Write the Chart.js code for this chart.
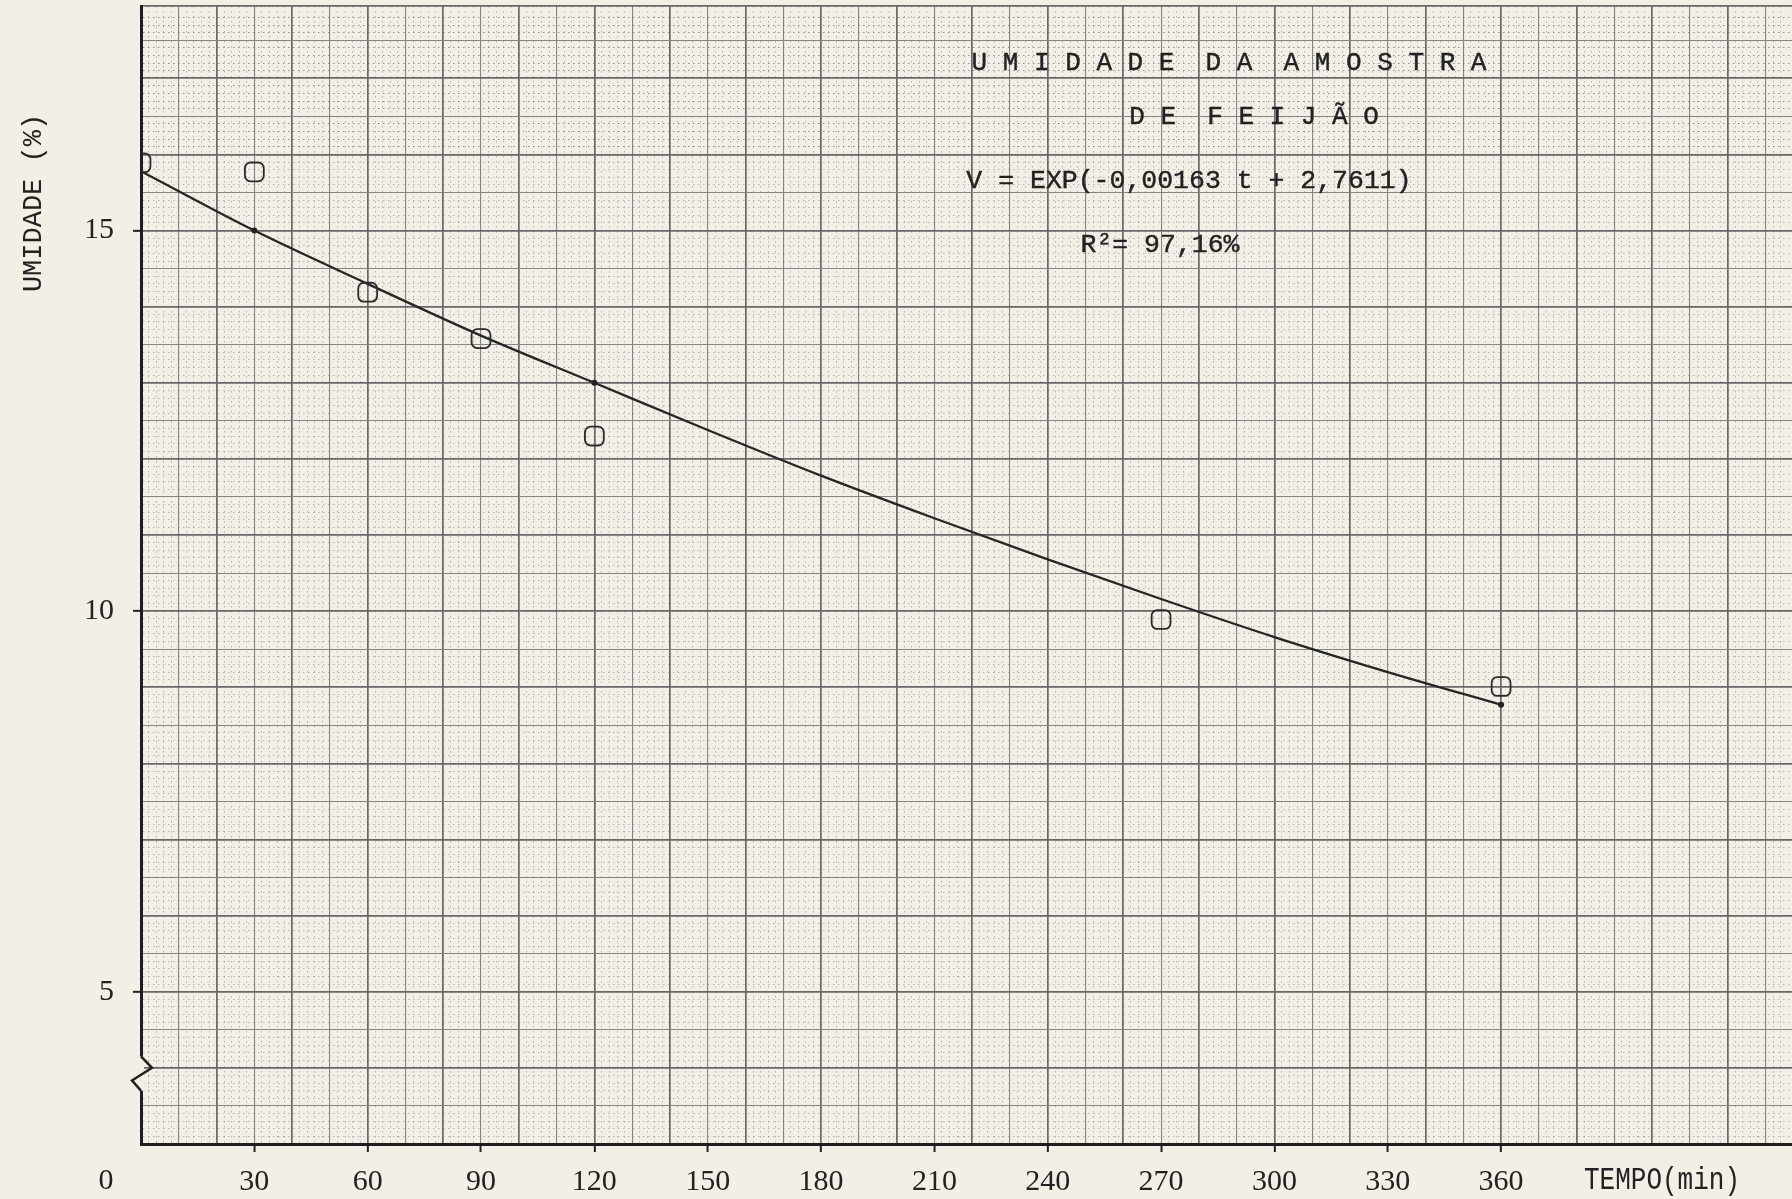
<!DOCTYPE html>
<html>
<head>
<meta charset="utf-8">
<script src="https://cdn.jsdelivr.net/npm/chart.js@4.4.1/dist/chart.umd.min.js"></script>
<style>
  body { margin: 0; background: #f3efe7; }
  #wrap { width: 1792px; height: 1199px; }
</style>
</head>
<body>
<div id="wrap"><canvas id="chart"></canvas></div>
<script>
// pontos medidos (min, %)
const tempo = [0, 30, 60, 90, 120, 270, 360];
const umidade = [15.89, 15.77, 14.19, 13.58, 12.30, 9.89, 9.01];

// curva ajustada
const ajusteTempo = [0, 30, 60, 90, 120, 150, 180, 210, 240, 270, 300, 330, 360];
const ajusteUmidade = [15.78, 15.0, 14.3, 13.62, 13.0, 12.38, 11.78, 11.22, 10.68, 10.16, 9.66, 9.2, 8.77];
const ajusteMarcas = [30, 120, 360];

const xLabels = [30, 60, 90, 120, 150, 180, 210, 240, 270, 300, 330, 360];
const yLabels = [5, 10, 15];

const paper = '#f3efe7';
const ink = '#222';
const monoFam = "'Liberation Mono', 'DejaVu Sans Mono', monospace";
const numFam = "'Liberation Serif', 'DejaVu Serif', serif";

function xKind(v) {
    const r = Math.round(v);
    if (r % 20 === 0) return 2;
    if (r % 10 === 0) return 1;
    return 0;
}
function yKind(v) {
    const t = Math.round(v * 10);
    if (t % 10 === 0) return 2;
    if (t % 5 === 0) return 1;
    return 0;
}

function typed(ctx, txt, x, y) {
    ctx.fillText(txt, x, y);
    ctx.strokeText(txt, x, y);
}

const paperPlugin = {
    id: 'paper',
    beforeDraw(chart) {
        const ctx = chart.ctx;
        ctx.save();
        ctx.fillStyle = paper;
        ctx.fillRect(0, 0, chart.width, chart.height);
        ctx.restore();
    },
    afterDraw(chart) {
        const ctx = chart.ctx;
        const xs = chart.scales.x, ys = chart.scales.y;
        const x0 = xs.getPixelForValue(0);

        // quebra do eixo
        const ya = ys.getPixelForValue(4.15), yb = ys.getPixelForValue(3.7);
        ctx.save();
        ctx.fillStyle = paper;
        ctx.fillRect(x0 - 3, ya, 6, yb - ya);
        ctx.strokeStyle = '#222';
        ctx.lineWidth = 2.5;
        ctx.beginPath();
        ctx.moveTo(x0, ya);
        ctx.lineTo(x0 + 11, ya + (yb - ya) * 0.33);
        ctx.lineTo(x0 - 9, ya + (yb - ya) * 0.7);
        ctx.lineTo(x0, yb);
        ctx.stroke();

        ctx.fillStyle = ink;
        ctx.strokeStyle = ink;
        ctx.lineWidth = 0.4;
        ctx.textAlign = 'center';
        ctx.textBaseline = 'middle';
        ctx.font = '26px ' + monoFam;
        typed(ctx, 'U M I D A D E  D A  A M O S T R A', 1229, 63);
        typed(ctx, 'D E  F E I J Ã O', 1254, 117);
        ctx.font = '26.5px ' + monoFam;
        typed(ctx, 'V = EXP(-0,00163 t + 2,7611)', 1189, 181);
        typed(ctx, 'R²= 97,16%', 1160, 245);

        ctx.font = '30px ' + numFam;
        ctx.fillText('0', 106, 1181);

        // título do eixo x, tipo de máquina (estreito e alto)
        ctx.save();
        ctx.translate(1662, 1181);
        ctx.scale(1, 1.22);
        ctx.font = '26px ' + monoFam;
        ctx.fillText('TEMPO(min)', 0, 0);
        ctx.restore();

        ctx.translate(34, 203);
        ctx.rotate(-Math.PI / 2);
        ctx.font = '27px ' + monoFam;
        ctx.fillText('UMIDADE (%)', 0, 0);
        ctx.restore();
    }
};

const gridColor = ['rgba(110,110,110,0.45)', '#858585', '#686868'];
const gridWidth = [1, 1.1, 1.7];
const minorDash = [1.5, 3.5];

new Chart(document.getElementById('chart'), {
    data: {
        datasets: [
            {
                type: 'scatter',
                label: 'Umidade',
                data: tempo.map((t, i) => ({ x: t, y: umidade[i] })),
                pointStyle: 'rectRounded',
                pointRadius: 11,
                pointBorderColor: '#2a2a2a',
                pointBorderWidth: 1.8,
                pointBackgroundColor: 'rgba(0,0,0,0)'
            },
            {
                type: 'line',
                label: 'Ajuste',
                data: ajusteTempo.map((t, i) => ({ x: t, y: ajusteUmidade[i] })),
                borderColor: '#262626',
                borderWidth: 2.3,
                pointRadius: ajusteTempo.map(t => ajusteMarcas.includes(t) ? 3 : 0),
                pointBackgroundColor: '#222',
                pointBorderWidth: 0,
                fill: false,
                cubicInterpolationMode: 'monotone'
            }
        ]
    },
    options: {
        responsive: true,
        maintainAspectRatio: false,
        animation: false,
        devicePixelRatio: 1,
        layout: { autoPadding: false, padding: { top: 6, right: 0, left: 0, bottom: 0 } },
        plugins: {
            legend: { display: false },
            tooltip: { enabled: false }
        },
        scales: {
            x: {
                type: 'linear',
                min: 0,
                max: 437,
                afterFit: s => { s.height = 55; s.paddingLeft = 0; s.paddingRight = 0; },
                ticks: {
                    stepSize: 2,
                    autoSkip: false,
                    maxRotation: 0,
                    padding: 12,
                    color: ink,
                    font: { family: numFam, size: 30 },
                    callback: v => {
                        const r = Math.round(v);
                        return xLabels.includes(r) ? String(r) : '';
                    }
                },
                grid: {
                    color: c => gridColor[xKind(c.tick.value)],
                    lineWidth: c => gridWidth[xKind(c.tick.value)],
                    tickLength: 8,
                    tickWidth: 2,
                    tickColor: c => xLabels.includes(Math.round(c.tick.value)) ? '#222' : 'rgba(0,0,0,0)'
                },
                border: {
                    display: true,
                    color: '#1e1e1e',
                    width: 3,
                    dash: c => (c.tick && xKind(c.tick.value) === 0) ? minorDash : []
                }
            },
            y: {
                type: 'linear',
                min: 3,
                max: 17.95,
                afterFit: s => { s.width = 141; s.paddingTop = 0; s.paddingBottom = 0; },
                ticks: {
                    stepSize: 0.1,
                    autoSkip: false,
                    padding: 19,
                    color: ink,
                    font: { family: numFam, size: 30 },
                    callback: v => {
                        const t = Math.round(v * 10);
                        return (t % 10 === 0 && yLabels.includes(t / 10)) ? String(t / 10) : '';
                    }
                },
                grid: {
                    color: c => {
                        const k = yKind(c.tick.value);
                        if (k === 0 && c.tick.value > 16.05) return 'rgba(95,95,95,0.65)';
                        return gridColor[k];
                    },
                    lineWidth: c => gridWidth[yKind(c.tick.value)],
                    tickLength: 8,
                    tickWidth: 2,
                    tickColor: c => {
                        const t = Math.round(c.tick.value * 10);
                        return (t % 10 === 0 && yLabels.includes(t / 10)) ? '#222' : 'rgba(0,0,0,0)';
                    }
                },
                border: {
                    display: true,
                    color: '#1e1e1e',
                    width: 3,
                    dash: c => (c.tick && yKind(c.tick.value) === 0) ? minorDash : []
                }
            }
        }
    },
    plugins: [paperPlugin]
});
</script>
</body>
</html>
